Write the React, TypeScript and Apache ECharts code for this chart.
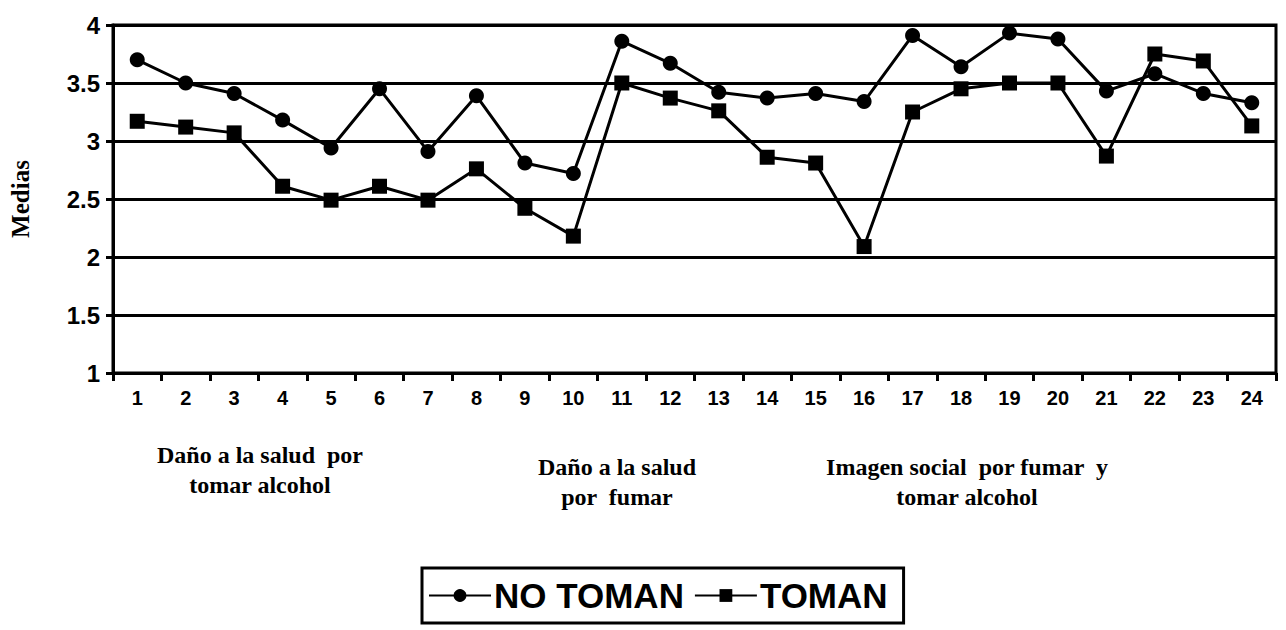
import React, { useEffect, useRef } from "react";
import * as echarts from "echarts";

const categories = ["1","2","3","4","5","6","7","8","9","10","11","12","13","14","15","16","17","18","19","20","21","22","23","24"];
const noToman = [3.70,3.50,3.41,3.18,2.94,3.45,2.91,3.39,2.81,2.72,3.86,3.67,3.42,3.37,3.41,3.34,3.91,3.64,3.93,3.88,3.43,3.58,3.41,3.33];
const toman = [3.17,3.12,3.07,2.61,2.49,2.61,2.49,2.76,2.42,2.18,3.50,3.37,3.26,2.86,2.81,2.09,3.25,3.45,3.50,3.50,2.87,3.75,3.69,3.13];
const seriesNames = ["NO TOMAN", "TOMAN"];
const groupLabels = [
  { text: "Daño a la salud  por\ntomar alcohol", x: 260, y: 440 },
  { text: "Daño a la salud\npor  fumar", x: 617, y: 452 },
  { text: "Imagen social  por fumar  y\ntomar alcohol", x: 967, y: 452 },
];

export default function App() {
  const ref = useRef<HTMLDivElement>(null);
  useEffect(() => {
    if (!ref.current) return;
    const chart = echarts.init(ref.current, null, { renderer: "svg" });
    chart.setOption({
      animation: false,
      backgroundColor: "#fff",
      grid: { left: 113, right: 10, top: 25, bottom: 257, show: true, borderColor: "#000", borderWidth: 3 },
      xAxis: {
        type: "category",
        data: categories,
        boundaryGap: true,
        axisLine: { lineStyle: { color: "#000", width: 3 } },
        axisTick: { show: true, length: 8, lineStyle: { color: "#000", width: 3 } },
        axisLabel: { color: "#000", fontFamily: "Liberation Sans", fontWeight: "bold", fontSize: 20, margin: 15 },
      },
      yAxis: {
        type: "value",
        min: 1,
        max: 4,
        interval: 0.5,
        name: "Medias",
        nameLocation: "middle",
        nameGap: 80,
        nameTextStyle: { color: "#000", fontFamily: "Liberation Serif", fontWeight: "bold", fontSize: 25 },
        axisLine: { show: true, lineStyle: { color: "#000", width: 3 } },
        axisTick: { show: true, length: 7, lineStyle: { color: "#000", width: 3 } },
        axisLabel: { color: "#000", fontFamily: "Liberation Sans", fontWeight: "bold", fontSize: 24, margin: 13 },
        splitLine: { show: true, lineStyle: { color: "#000", width: 3 } },
      },
      legend: {
        data: seriesNames,
        left: 422,
        top: 568,
        orient: "horizontal",
        borderColor: "#000",
        borderWidth: 3,
        padding: [10, 16, 10, 6],
        itemGap: 10,
        itemWidth: 62,
        itemHeight: 16,
        textStyle: { color: "#000", fontFamily: "Liberation Sans", fontWeight: "bold", fontSize: 35, padding: [0, 0, 0, -2] },
      },
      graphic: groupLabels.map((g) => ({
        type: "text",
        x: g.x,
        y: g.y,
        style: {
          text: g.text,
          fill: "#000",
          font: "bold 24px 'Liberation Serif'",
          textAlign: "center",
          lineHeight: 30,
        },
      })),
      series: [
        {
          name: seriesNames[0],
          type: "line",
          data: noToman,
          symbol: "circle",
          symbolSize: 15,
          lineStyle: { color: "#000", width: 3 },
          itemStyle: { color: "#000" },
        },
        {
          name: seriesNames[1],
          type: "line",
          data: toman,
          symbol: "rect",
          symbolSize: 15,
          lineStyle: { color: "#000", width: 3 },
          itemStyle: { color: "#000" },
        },
      ],
    });
    return () => chart.dispose();
  }, []);
  return <div ref={ref} style={{ position: "fixed", left: 0, top: 0, width: 1286, height: 630 }} />;
}
